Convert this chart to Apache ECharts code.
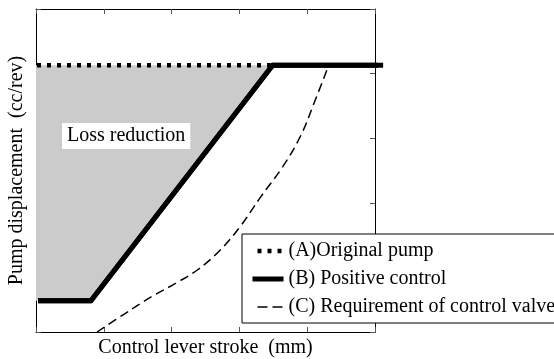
<!DOCTYPE html>
<html><head><meta charset="utf-8">
<script src="https://cdn.jsdelivr.net/npm/echarts@6/dist/echarts.min.js"></script>
<style>html,body{margin:0;padding:0;background:#fff}#c{width:554px;height:359px}</style>
</head><body><div id="c"></div>
<script>
// Data (axis units: x 0..5, y 0..5)
const seriesNames = ['(A)Original pump', '(B) Positive control', '(C) Requirement of control valve'];
const lineA_x = [0, 3.49];
const lineA_y = [4.13, 4.13];
const lineB_x = [0.03, 0.81, 3.49, 5.12];
const lineB_y = [0.485, 0.485, 4.13, 4.13];
const lineC_x = [0.90, 1.29, 1.71, 2.07, 2.38, 2.70, 3.01, 3.32, 3.64, 3.90, 4.10, 4.31];
const lineC_y = [0.00, 0.27, 0.55, 0.76, 0.96, 1.25, 1.63, 2.10, 2.56, 3.03, 3.54, 4.11];
const shade_x = [0, 3.49, 0.81, 0];
const shade_y = [4.13, 4.13, 0.485, 0.485];
const xTicks = [0, 1, 2, 3, 4, 5];
const yTicks = [0, 1, 2, 3, 4, 5];
const xTitle = 'Control lever stroke  (mm)';
const yTitle = 'Pump displacement  (cc/rev)';
const areaLabel = 'Loss reduction';

const zip = (xs, ys) => xs.map((x, i) => [x, ys[i]]);
const FONT = 'Liberation Serif';

const axisCommon = {
  type: 'value', min: xTicks[0], max: xTicks[xTicks.length - 1], interval: 1,
  axisLine: { show: true, onZero: false, lineStyle: { color: '#000', width: 1 } },
  axisTick: { show: true, inside: true, length: 5, lineStyle: { color: '#555', width: 1 } },
  axisLabel: { show: false }, splitLine: { show: false }
};
const noSymbol = { opacity: 0, color: 'rgba(0,0,0,0)', borderWidth: 0 };

const chart = echarts.init(document.getElementById('c'), null, { renderer: 'canvas' });
chart.setOption({
  animation: false,
  backgroundColor: '#fff',
  color: ['#000'],
  grid: { left: 36, right: 179, top: 9, bottom: 27, containLabel: false, outerBoundsMode: 'none' },
  xAxis: [
    Object.assign({}, axisCommon, { position: 'bottom', name: xTitle, nameLocation: 'middle', nameGap: 6,
      nameTextStyle: { fontFamily: FONT, fontSize: 20, color: '#000' } }),
    Object.assign({}, axisCommon, { position: 'top' })
  ],
  yAxis: [
    Object.assign({}, axisCommon, { min: yTicks[0], max: yTicks[yTicks.length - 1], position: 'left', name: yTitle, nameLocation: 'middle', nameGap: 9,
      nameTextStyle: { fontFamily: FONT, fontSize: 20, color: '#000' } }),
    Object.assign({}, axisCommon, { min: yTicks[0], max: yTicks[yTicks.length - 1], position: 'right' })
  ],
  legend: {
    orient: 'vertical', left: 242, top: 234,
    backgroundColor: '#fff', borderColor: '#000', borderWidth: 1,
    padding: [7, 10, 6, 8], itemGap: 8, itemWidth: 31, itemHeight: 14,
    textStyle: { fontFamily: FONT, fontSize: 20, color: '#000', lineHeight: 20 },
    itemStyle: noSymbol,
    data: [
      { name: seriesNames[0], itemStyle: noSymbol, lineStyle: { width: 4.5, type: [4, 6], dashOffset: -5, color: '#000' } },
      { name: seriesNames[1], itemStyle: noSymbol, lineStyle: { width: 5, type: 'solid', color: '#000' } },
      { name: seriesNames[2], itemStyle: noSymbol, lineStyle: { width: 1.5, type: [10, 5], color: '#000' } }
    ]
  },
  graphic: [{
    type: 'text', left: 62, top: 123, z: 10,
    style: { text: areaLabel, font: '20px "Liberation Serif"', fill: '#000', backgroundColor: '#fff', padding: [3, 5, 3, 5] }
  }],
  series: [
    {
      type: 'custom', name: 'shade', z: 1, silent: true,
      data: [0],
      renderItem: function (params, api) {
        const pts = shade_x.map((x, i) => api.coord([x, shade_y[i]]));
        return { type: 'polygon', shape: { points: pts }, style: { fill: '#cbcbcb', stroke: null } };
      }
    },
    {
      type: 'line', name: seriesNames[2], data: zip(lineC_x, lineC_y), smooth: 0.4, symbol: 'none', z: 3,
      itemStyle: { color: '#000' },
      lineStyle: { color: '#000', width: 1.5, type: [9, 5] }
    },
    {
      type: 'line', name: seriesNames[0], data: zip(lineA_x, lineA_y), symbol: 'none', z: 4,
      itemStyle: { color: '#000' },
      lineStyle: { color: '#000', width: 4.5, type: [4, 6], dashOffset: -1 }
    },
    {
      type: 'line', name: seriesNames[1], data: zip(lineB_x, lineB_y), symbol: 'none', z: 5, clip: false,
      itemStyle: { color: '#000' },
      lineStyle: { color: '#000', width: 5, type: 'solid' }
    },
    {
      // unclipped overlay of series B so its top run extends past the right frame, as in the source
      type: 'custom', name: 'B-overlay', z: 6, silent: true, clip: false,
      data: [0],
      renderItem: function (params, api) {
        const pts = lineB_x.map((x, i) => api.coord([x, lineB_y[i]]));
        return { type: 'polyline', shape: { points: pts }, style: { stroke: '#000', lineWidth: 5, fill: null, lineJoin: 'miter' } };
      }
    }
  ]
});
</script></body></html>
